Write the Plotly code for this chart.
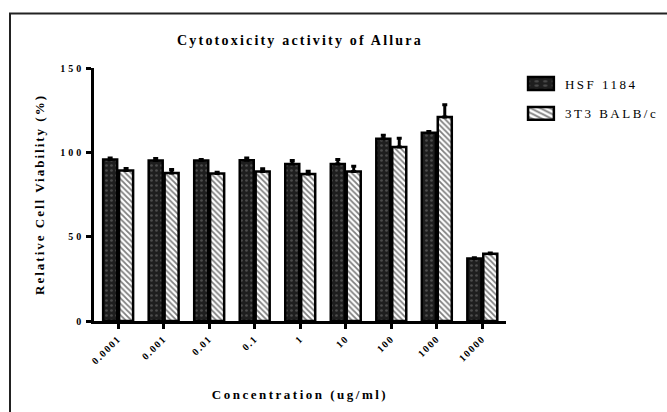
import plotly.graph_objects as go

concentrations = ["0.0001", "0.001", "0.01", "0.1", "1", "10", "100", "1000", "10000"]
hsf_values = [95.7, 95.1, 95.1, 95.3, 93.1, 93.1, 108.1, 111.6, 37.1]
hsf_errors = [0.9, 1.2, 0.6, 1.4, 2.0, 2.6, 2.0, 0.8, 0.4]
balb_values = [89.2, 87.8, 87.4, 88.7, 87.2, 88.7, 103.1, 120.9, 39.8]
balb_errors = [1.2, 2.0, 0.8, 1.6, 1.6, 3.0, 5.3, 7.3, 0.5]
y_ticks = [0, 50, 100, 150]

SERIF = "Liberation Serif"

fig = go.Figure()
fig.add_trace(go.Bar(
    name="HSF 1184", x=concentrations, y=hsf_values, legendgroup="a",
    marker=dict(color="#1e1e1e", line=dict(color="black", width=2.5),
                pattern=dict(shape=".", fgcolor="#7a7a7a", bgcolor="#1e1e1e",
                             size=5, solidity=0.22, fillmode="overlay")),
    error_y=dict(type="data", symmetric=False, array=hsf_errors,
                 arrayminus=[0] * len(hsf_errors), color="black",
                 thickness=3, width=2.5),
))
fig.add_trace(go.Bar(
    name="3T3 BALB/c", x=concentrations, y=balb_values, legendgroup="b",
    marker=dict(color="white", line=dict(color="black", width=2.5),
                pattern=dict(shape="\\", fgcolor="black", bgcolor="white",
                             size=4, solidity=0.45, fillmode="overlay")),
    error_y=dict(type="data", symmetric=False, array=balb_errors,
                 arrayminus=[0] * len(balb_errors), color="black",
                 thickness=3, width=2.5),
))

fig.update_layout(
    width=667, height=412,
    margin=dict(l=94, r=161, t=67.5, b=91, autoexpand=False),
    paper_bgcolor="white", plot_bgcolor="white",
    barmode="group", bargap=0.3, bargroupgap=0.12,
    font=dict(family=SERIF, color="black"),
    title=dict(text="Cytotoxicity activity of Allura", x=0.5 * (94 + 506) / 667,
               xanchor="center", y=1 - 40 / 412, yanchor="middle",
               font=dict(family=SERIF, size=14, weight="bold", color="black")),
    legend=dict(x=1.046, y=0.998, xanchor="left", yanchor="top",
                font=dict(family=SERIF, size=13, color="black"),
                tracegroupgap=10, bgcolor="rgba(0,0,0,0)"),
    xaxis=dict(range=[-0.53, 8.52], showline=True, linecolor="black", linewidth=2.5,
               ticks="outside", ticklen=5, tickwidth=2.5, tickcolor="black",
               tickangle=-45, showgrid=False, zeroline=False,
               tickfont=dict(family=SERIF, size=10, weight="bold", color="black"),
               title=dict(text="Concentration (ug/ml)", standoff=31,
                          font=dict(family=SERIF, size=13, weight="bold", color="black"))),
    yaxis=dict(range=[0, 150], tickvals=y_ticks, showline=True, linecolor="black",
               linewidth=2.5, ticks="outside", ticklen=5, tickwidth=2.5,
               tickcolor="black", showgrid=False, zeroline=False,
               tickfont=dict(family=SERIF, size=10, weight="bold", color="black"),
               title=dict(text="Relative Cell Viability (%)", standoff=22,
                          font=dict(family=SERIF, size=13, weight="bold", color="black"))),
    shapes=[dict(type="rect", xref="paper", yref="paper",
                 x0=(10 - 94) / 412, x1=(700 - 94) / 412,
                 y0=(321 - 450) / 253.5, y1=(321 - 13) / 253.5,
                 line=dict(color="#222222", width=2), fillcolor="rgba(0,0,0,0)",
                 layer="below")],
)

post = """
var gd = document.getElementById('{plot_id}');
function ls(){
  gd.querySelectorAll('.gtitle').forEach(function(t){t.style.letterSpacing='2.2px';});
  gd.querySelectorAll('.xtitle').forEach(function(t){t.style.letterSpacing='2.5px';});
  gd.querySelectorAll('.ytitle').forEach(function(t){t.style.letterSpacing='2px';});
  gd.querySelectorAll('.ytick text').forEach(function(t){t.style.letterSpacing='3px';});
  gd.querySelectorAll('.xtick text').forEach(function(t){t.style.letterSpacing='1.5px';});
  gd.querySelectorAll('.legendtext').forEach(function(t){t.style.letterSpacing='2.5px';});
  gd.querySelectorAll('.legend [clip-path]').forEach(function(el){el.removeAttribute('clip-path');});
  gd.querySelectorAll('.legendpoints path').forEach(function(p){
    p.setAttribute('transform', 'translate(16,0) scale(2.15,1.08)');
    p.style.vectorEffect = 'non-scaling-stroke';
  });
}
ls();
gd.on('plotly_afterplot', ls);
"""

fig.write_html("out.html", post_script=post, config={"displayModeBar": False})
